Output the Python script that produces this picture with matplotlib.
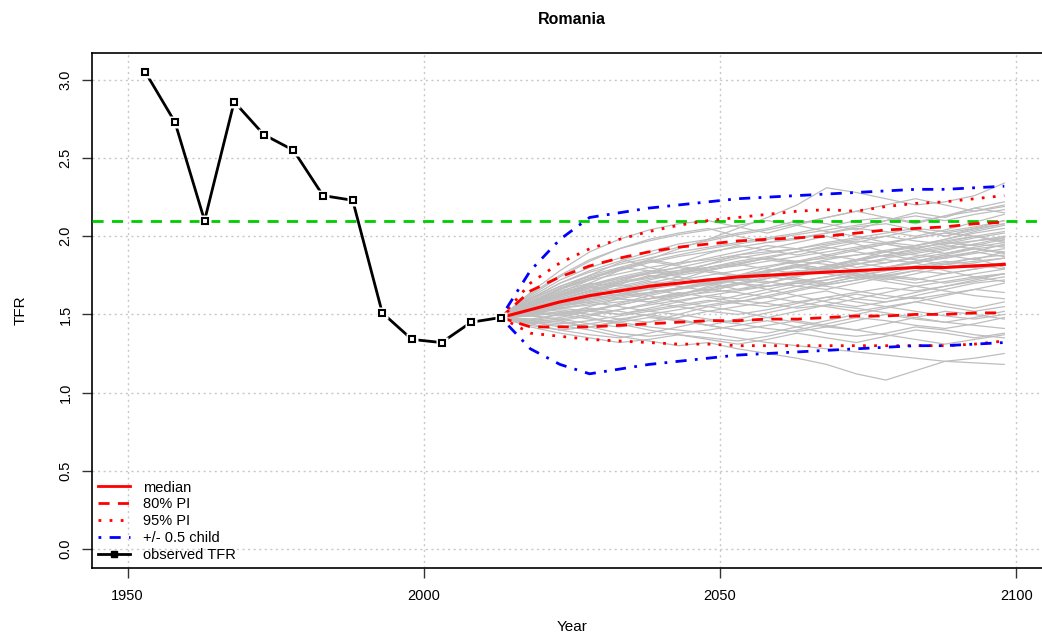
import matplotlib.pyplot as plt
from matplotlib.lines import Line2D
import numpy as np

plt.rcParams['font.family'] = ['Liberation Sans', 'DejaVu Sans']

# observed TFR (5-year period midpoints)
obs_years = [1953, 1958, 1963, 1968, 1973, 1978, 1983, 1988, 1993, 1998, 2003, 2008, 2013]
obs_tfr = [3.05, 2.73, 2.10, 2.86, 2.65, 2.55, 2.26, 2.23, 1.51, 1.34, 1.32, 1.45, 1.48]

# projection years
proj_years = [2013, 2018, 2023, 2028, 2033, 2038, 2043, 2048, 2053,
              2058, 2063, 2068, 2073, 2078, 2083, 2088, 2093, 2098]

median = [1.48, 1.53, 1.58, 1.62, 1.65, 1.68, 1.70, 1.72, 1.74,
          1.75, 1.76, 1.77, 1.78, 1.79, 1.80, 1.80, 1.81, 1.82]
pi80_low = [1.48, 1.42, 1.42, 1.42, 1.43, 1.44, 1.45, 1.46, 1.46,
            1.47, 1.47, 1.48, 1.49, 1.49, 1.50, 1.50, 1.51, 1.51]
pi80_high = [1.48, 1.65, 1.74, 1.81, 1.86, 1.90, 1.93, 1.95, 1.97,
             1.98, 1.99, 2.00, 2.02, 2.04, 2.05, 2.06, 2.08, 2.09]
pi95_low = [1.48, 1.38, 1.36, 1.34, 1.33, 1.32, 1.31, 1.31, 1.30,
            1.30, 1.30, 1.30, 1.30, 1.30, 1.30, 1.30, 1.31, 1.33]
pi95_high = [1.48, 1.70, 1.83, 1.92, 1.98, 2.03, 2.07, 2.10, 2.12,
             2.14, 2.16, 2.17, 2.16, 2.19, 2.21, 2.22, 2.24, 2.26]
half_child_low = [1.48, 1.28, 1.18, 1.12, 1.15, 1.18, 1.20, 1.22, 1.24,
                  1.25, 1.26, 1.27, 1.28, 1.29, 1.30, 1.30, 1.31, 1.32]
half_child_high = [1.48, 1.78, 1.98, 2.12, 2.15, 2.18, 2.20, 2.22, 2.24,
                   2.25, 2.26, 2.27, 2.28, 2.29, 2.30, 2.30, 2.31, 2.32]

replacement_tfr = 2.1

# a sample of simulated trajectories
trajectories = [
    [1.48, 1.55, 1.62, 1.70, 1.78, 1.85, 1.92, 1.98, 2.05, 2.12, 2.20, 2.31, 2.28, 2.24, 2.20, 2.22, 2.26, 2.34],
    [1.48, 1.45, 1.43, 1.40, 1.36, 1.33, 1.30, 1.32, 1.28, 1.25, 1.22, 1.18, 1.12, 1.08, 1.14, 1.20, 1.22, 1.25],
    [1.48, 1.52, 1.50, 1.47, 1.45, 1.42, 1.40, 1.38, 1.35, 1.32, 1.30, 1.28, 1.26, 1.24, 1.22, 1.20, 1.19, 1.18],
    [1.48, 1.60, 1.70, 1.78, 1.84, 1.90, 1.95, 1.98, 2.02, 2.05, 2.10, 2.08, 2.04, 2.10, 2.15, 2.12, 2.18, 2.22],
    [1.48, 1.58, 1.66, 1.72, 1.76, 1.80, 1.83, 1.85, 1.88, 1.90, 1.92, 1.95, 1.98, 2.00, 1.97, 1.95, 1.99, 2.02],
    [1.48, 1.50, 1.54, 1.56, 1.58, 1.60, 1.62, 1.64, 1.66, 1.68, 1.70, 1.72, 1.75, 1.78, 1.80, 1.82, 1.84, 1.86],
    [1.48, 1.46, 1.50, 1.55, 1.60, 1.58, 1.62, 1.68, 1.72, 1.70, 1.74, 1.79, 1.83, 1.80, 1.84, 1.88, 1.85, 1.90],
    [1.48, 1.54, 1.60, 1.65, 1.62, 1.66, 1.72, 1.78, 1.75, 1.80, 1.84, 1.82, 1.78, 1.74, 1.78, 1.82, 1.86, 1.80],
    [1.48, 1.51, 1.53, 1.50, 1.47, 1.45, 1.48, 1.52, 1.55, 1.58, 1.62, 1.65, 1.60, 1.58, 1.62, 1.66, 1.70, 1.72],
    [1.48, 1.56, 1.64, 1.72, 1.80, 1.85, 1.82, 1.86, 1.90, 1.94, 1.92, 1.96, 1.99, 2.02, 2.05, 2.03, 2.06, 2.10],
    [1.48, 1.53, 1.57, 1.61, 1.66, 1.70, 1.74, 1.70, 1.66, 1.70, 1.75, 1.80, 1.85, 1.90, 1.88, 1.86, 1.90, 1.95],
    [1.48, 1.49, 1.47, 1.44, 1.42, 1.45, 1.50, 1.55, 1.52, 1.48, 1.45, 1.42, 1.40, 1.44, 1.48, 1.52, 1.50, 1.47],
    [1.48, 1.55, 1.63, 1.68, 1.73, 1.76, 1.78, 1.80, 1.82, 1.79, 1.76, 1.80, 1.84, 1.88, 1.92, 1.96, 1.94, 1.98],
    [1.48, 1.52, 1.58, 1.64, 1.70, 1.74, 1.78, 1.82, 1.86, 1.89, 1.92, 1.88, 1.85, 1.88, 1.91, 1.94, 1.92, 1.89],
    [1.48, 1.47, 1.45, 1.42, 1.38, 1.36, 1.38, 1.40, 1.43, 1.46, 1.42, 1.38, 1.36, 1.38, 1.42, 1.40, 1.37, 1.35],
    [1.48, 1.57, 1.65, 1.70, 1.68, 1.72, 1.76, 1.80, 1.84, 1.87, 1.90, 1.93, 1.90, 1.87, 1.90, 1.93, 1.97, 2.00],
    [1.48, 1.50, 1.55, 1.60, 1.63, 1.67, 1.70, 1.73, 1.70, 1.68, 1.71, 1.74, 1.77, 1.80, 1.83, 1.78, 1.74, 1.76],
    [1.48, 1.59, 1.68, 1.75, 1.80, 1.78, 1.74, 1.70, 1.72, 1.75, 1.78, 1.76, 1.73, 1.76, 1.80, 1.83, 1.86, 1.88],
    [1.48, 1.53, 1.56, 1.58, 1.55, 1.52, 1.55, 1.58, 1.62, 1.66, 1.70, 1.68, 1.65, 1.62, 1.60, 1.63, 1.66, 1.64],
    [1.48, 1.62, 1.74, 1.84, 1.92, 1.98, 2.02, 2.05, 2.00, 1.96, 1.98, 2.02, 2.06, 2.08, 2.04, 2.00, 2.04, 2.08],
    [1.48, 1.51, 1.56, 1.61, 1.65, 1.69, 1.72, 1.75, 1.78, 1.81, 1.84, 1.86, 1.88, 1.90, 1.93, 1.95, 1.97, 1.99],
    [1.48, 1.45, 1.42, 1.44, 1.47, 1.50, 1.53, 1.56, 1.59, 1.57, 1.54, 1.56, 1.60, 1.64, 1.68, 1.65, 1.62, 1.60],
    [1.48, 1.54, 1.59, 1.63, 1.67, 1.71, 1.68, 1.65, 1.69, 1.73, 1.77, 1.81, 1.85, 1.88, 1.85, 1.82, 1.80, 1.83],
    [1.48, 1.56, 1.61, 1.66, 1.70, 1.73, 1.76, 1.79, 1.81, 1.84, 1.87, 1.90, 1.93, 1.96, 1.94, 1.98, 2.02, 2.05],
    [1.48, 1.49, 1.52, 1.48, 1.44, 1.40, 1.37, 1.35, 1.33, 1.36, 1.40, 1.44, 1.48, 1.46, 1.43, 1.41, 1.44, 1.48],
    [1.48, 1.55, 1.61, 1.67, 1.72, 1.76, 1.80, 1.84, 1.87, 1.85, 1.82, 1.79, 1.82, 1.86, 1.89, 1.92, 1.95, 1.93],
    [1.48, 1.52, 1.56, 1.59, 1.62, 1.64, 1.66, 1.69, 1.72, 1.76, 1.73, 1.70, 1.74, 1.78, 1.81, 1.84, 1.82, 1.79],
    [1.48, 1.58, 1.67, 1.73, 1.78, 1.83, 1.87, 1.90, 1.93, 1.96, 1.99, 2.02, 2.05, 2.03, 2.00, 2.04, 2.09, 2.14],
    [1.48, 1.50, 1.51, 1.53, 1.56, 1.60, 1.64, 1.61, 1.58, 1.61, 1.65, 1.69, 1.72, 1.75, 1.78, 1.76, 1.79, 1.82],
    [1.48, 1.46, 1.44, 1.46, 1.49, 1.52, 1.50, 1.47, 1.45, 1.48, 1.52, 1.56, 1.54, 1.51, 1.48, 1.45, 1.43, 1.41],
    [1.48, 1.57, 1.64, 1.69, 1.73, 1.77, 1.80, 1.77, 1.74, 1.77, 1.81, 1.85, 1.88, 1.91, 1.94, 1.97, 2.00, 1.97],
    [1.48, 1.53, 1.58, 1.62, 1.60, 1.63, 1.67, 1.71, 1.74, 1.77, 1.80, 1.78, 1.82, 1.85, 1.83, 1.87, 1.90, 1.87],
    [1.48, 1.51, 1.49, 1.52, 1.56, 1.60, 1.63, 1.66, 1.64, 1.61, 1.58, 1.55, 1.52, 1.55, 1.58, 1.55, 1.52, 1.55],
    [1.48, 1.60, 1.70, 1.77, 1.82, 1.86, 1.90, 1.93, 1.96, 1.99, 2.02, 2.06, 2.10, 2.12, 2.09, 2.13, 2.16, 2.20],
    [1.48, 1.54, 1.60, 1.65, 1.69, 1.66, 1.63, 1.66, 1.70, 1.74, 1.72, 1.69, 1.72, 1.75, 1.73, 1.70, 1.73, 1.76],
    [1.48, 1.52, 1.55, 1.58, 1.61, 1.64, 1.67, 1.70, 1.73, 1.71, 1.68, 1.72, 1.76, 1.73, 1.70, 1.73, 1.76, 1.79],
    [1.48, 1.44, 1.40, 1.37, 1.35, 1.38, 1.42, 1.46, 1.44, 1.41, 1.39, 1.42, 1.46, 1.50, 1.47, 1.45, 1.48, 1.52],
    [1.48, 1.56, 1.63, 1.69, 1.74, 1.78, 1.75, 1.78, 1.82, 1.86, 1.90, 1.94, 1.97, 1.95, 1.92, 1.96, 2.00, 2.03],
    [1.48, 1.51, 1.54, 1.57, 1.60, 1.58, 1.55, 1.52, 1.50, 1.53, 1.57, 1.61, 1.58, 1.55, 1.52, 1.49, 1.47, 1.50],
    [1.48, 1.55, 1.62, 1.67, 1.71, 1.74, 1.77, 1.80, 1.83, 1.86, 1.84, 1.88, 1.92, 1.95, 1.99, 2.02, 2.00, 1.96],
    [1.48, 1.64, 1.78, 1.90, 1.98, 2.04, 2.08, 2.10, 2.06, 2.02, 2.07, 2.12, 2.16, 2.12, 2.08, 2.13, 2.18, 2.15],
    [1.48, 1.42, 1.38, 1.35, 1.32, 1.34, 1.37, 1.34, 1.31, 1.34, 1.38, 1.35, 1.32, 1.36, 1.40, 1.38, 1.35, 1.38],
    [1.48, 1.61, 1.72, 1.80, 1.86, 1.80, 1.76, 1.82, 1.88, 1.92, 1.96, 2.00, 1.95, 1.90, 1.94, 1.98, 2.03, 2.07],
    [1.48, 1.50, 1.46, 1.42, 1.46, 1.50, 1.47, 1.43, 1.40, 1.38, 1.42, 1.46, 1.50, 1.54, 1.58, 1.62, 1.66, 1.70],
    [1.48, 1.57, 1.66, 1.75, 1.83, 1.88, 1.93, 1.97, 2.01, 2.04, 2.08, 2.12, 2.16, 2.20, 2.24, 2.20, 2.16, 2.19],
    [1.48, 1.46, 1.48, 1.52, 1.57, 1.62, 1.66, 1.70, 1.74, 1.78, 1.82, 1.79, 1.76, 1.80, 1.84, 1.88, 1.92, 1.94],
    [1.48, 1.55, 1.58, 1.62, 1.66, 1.62, 1.58, 1.55, 1.58, 1.62, 1.66, 1.70, 1.74, 1.71, 1.68, 1.71, 1.74, 1.71],
    [1.48, 1.43, 1.40, 1.42, 1.45, 1.48, 1.46, 1.43, 1.47, 1.51, 1.55, 1.59, 1.63, 1.60, 1.64, 1.68, 1.72, 1.76],
    [1.48, 1.63, 1.75, 1.85, 1.92, 1.97, 2.01, 2.04, 2.07, 2.10, 2.07, 2.03, 2.00, 1.96, 1.99, 2.02, 2.05, 2.08],
    [1.48, 1.52, 1.57, 1.63, 1.69, 1.75, 1.72, 1.69, 1.73, 1.77, 1.81, 1.78, 1.75, 1.72, 1.76, 1.80, 1.83, 1.86],
    [1.48, 1.49, 1.51, 1.54, 1.52, 1.49, 1.46, 1.43, 1.40, 1.43, 1.46, 1.43, 1.40, 1.37, 1.34, 1.31, 1.34, 1.37],
    [1.48, 1.58, 1.66, 1.73, 1.79, 1.84, 1.88, 1.92, 1.95, 1.98, 2.01, 2.04, 2.07, 2.10, 2.13, 2.10, 2.14, 2.17],
    [1.48, 1.54, 1.57, 1.60, 1.63, 1.66, 1.69, 1.72, 1.75, 1.78, 1.81, 1.84, 1.80, 1.83, 1.86, 1.89, 1.92, 1.90],
    [1.48, 1.47, 1.50, 1.53, 1.50, 1.54, 1.58, 1.62, 1.60, 1.64, 1.68, 1.66, 1.70, 1.74, 1.72, 1.76, 1.79, 1.82],
    [1.48, 1.60, 1.68, 1.74, 1.79, 1.84, 1.81, 1.78, 1.82, 1.86, 1.83, 1.87, 1.91, 1.95, 1.92, 1.89, 1.93, 1.96],
    [1.48, 1.45, 1.47, 1.50, 1.53, 1.56, 1.59, 1.62, 1.65, 1.68, 1.71, 1.74, 1.77, 1.80, 1.83, 1.86, 1.89, 1.92],
    [1.48, 1.53, 1.59, 1.65, 1.71, 1.77, 1.83, 1.89, 1.94, 1.91, 1.88, 1.92, 1.96, 2.00, 2.04, 2.00, 2.05, 2.10],
    [1.48, 1.51, 1.54, 1.52, 1.50, 1.53, 1.56, 1.59, 1.57, 1.55, 1.58, 1.61, 1.64, 1.67, 1.65, 1.68, 1.71, 1.74],
    [1.48, 1.56, 1.62, 1.68, 1.64, 1.60, 1.63, 1.67, 1.70, 1.66, 1.62, 1.58, 1.55, 1.58, 1.61, 1.57, 1.54, 1.58],
    [1.48, 1.44, 1.46, 1.49, 1.53, 1.57, 1.61, 1.65, 1.69, 1.73, 1.77, 1.81, 1.85, 1.83, 1.87, 1.91, 1.95, 1.99],
]

fig = plt.figure(figsize=(10.42, 6.34), dpi=100)
# the original image is cut off on the right, so the axes box runs past the figure
ax = fig.add_axes([0.0883, 0.1041, 0.921, 0.8123])

for traj in trajectories:
    ax.plot(proj_years, traj, color='#bebebe', lw=0.9, zorder=2)

ax.axhline(replacement_tfr, color='#00cd00', lw=2, dashes=(4, 3), zorder=3)

ax.plot(proj_years, pi80_low, color='red', lw=2, dashes=(4, 3), zorder=4)
ax.plot(proj_years, pi80_high, color='red', lw=2, dashes=(4, 3), zorder=4)
ax.plot(proj_years, pi95_low, color='red', lw=2, dashes=(1, 3), zorder=4)
ax.plot(proj_years, pi95_high, color='red', lw=2, dashes=(1, 3), zorder=4)
ax.plot(proj_years, half_child_low, color='blue', lw=2, dashes=(1, 3, 4, 3), zorder=4)
ax.plot(proj_years, half_child_high, color='blue', lw=2, dashes=(1, 3, 4, 3), zorder=4)
ax.plot(proj_years, median, color='red', lw=2.2, zorder=5)

# observed: line with gaps around the points (R type="b")
ax.plot(obs_years, obs_tfr, color='black', lw=2, zorder=6)
ax.plot(obs_years, obs_tfr, ls='none', marker='s', ms=9, mfc='white', mec='none', zorder=7)
ax.plot(obs_years, obs_tfr, ls='none', marker='s', ms=4.5, mfc='white', mec='black', mew=1.5, zorder=8)

ax.set_xlim(1944, 2106)
ax.set_ylim(-0.122, 3.172)
ax.set_xticks([1950, 2000, 2050, 2100])
ax.set_yticks([0.0, 0.5, 1.0, 1.5, 2.0, 2.5, 3.0])
ax.set_yticklabels(['0.0', '0.5', '1.0', '1.5', '2.0', '2.5', '3.0'], rotation=90, va='center')
ax.tick_params(axis='both', length=7, width=1, labelsize=10.5, color='#333333')
ax.tick_params(axis='x', pad=8)
ax.tick_params(axis='y', pad=7)
ax.grid(True, color='#c8c8c8', ls=(0, (1.5, 2.5)), lw=1)
ax.set_axisbelow(True)
for sp in ax.spines.values():
    sp.set_linewidth(1.2)

ax.set_title('Romania', fontsize=11.5, fontweight='bold', pad=21)
ax.set_xlabel('Year', fontsize=11, labelpad=12)
ax.set_ylabel('TFR', fontsize=11, labelpad=22)

handles = [
    Line2D([], [], color='red', lw=2),
    Line2D([], [], color='red', lw=2, dashes=(4, 3)),
    Line2D([], [], color='red', lw=2, dashes=(1, 3)),
    Line2D([], [], color='blue', lw=2, dashes=(1, 3, 4, 3)),
    Line2D([], [], color='black', lw=2, marker='s', ms=4),
]
labels = ['median', '80% PI', '95% PI', '+/- 0.5 child', 'observed TFR']
ax.legend(handles, labels, loc='lower left', frameon=False, fontsize=10.5,
          handlelength=2.2, handletextpad=0.9, labelspacing=0.2,
          borderpad=0.2, borderaxespad=0.2)

fig.savefig('out.png', dpi=100)
